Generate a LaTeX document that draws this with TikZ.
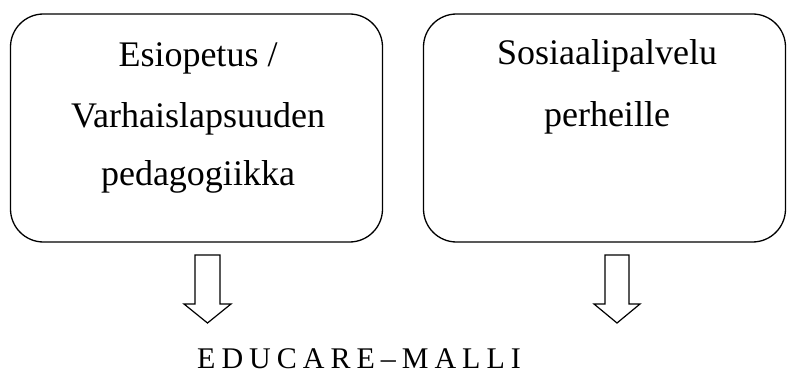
\documentclass[tikz,border=0pt]{standalone}
\usepackage{fontspec}
\setmainfont{Liberation Serif}
\begin{document}
\begin{tikzpicture}[x=1pt,y=-1pt,
  box/.style={draw=black,line width=1.3pt,rounded corners=33pt,inner sep=0pt},
  txt/.style={anchor=base,inner sep=0pt,font=\fontsize{36}{42}\selectfont},
  hollow/.style={draw=black,line width=1.2pt,fill=white,line join=miter}]
\useasboundingbox (0,0) rectangle (787,385);
\node[box,minimum width=372pt,minimum height=228pt] (lbox) at (196.5,128) {};
\node[box,minimum width=362pt,minimum height=228pt] (rbox) at (604.5,128) {};
\node[txt] (l1) at (198,67) {Esiopetus /};
\node[txt] (l2) at (198,128) {Varhaislapsuuden};
\node[txt] (l3) at (198,185) {pedagogiikka};
\node[txt] (r1) at (607,65) {Sosiaalipalvelu};
\node[txt] (r2) at (607,127) {perheille};
\draw[hollow] (195,255) -- (220,255) -- (220,304) -- (231,304) -- (207.5,323) -- (184,304) -- (195,304) -- cycle;
\draw[hollow] (605,255) -- (629,255) -- (629,304) -- (640,304) -- (617,323) -- (594,304) -- (605,304) -- cycle;
\node[txt,anchor=base west,font=\fontsize{30}{36}\selectfont] (model) at (197,368) {E\hspace{6pt}D\hspace{6pt}U\hspace{6pt}C\hspace{6pt}A\hspace{6pt}R\hspace{6pt}E\hspace{6pt}--\hspace{6pt}M\hspace{6pt}A\hspace{6pt}L\hspace{6pt}L\hspace{6pt}I};
\end{tikzpicture}
\end{document}
